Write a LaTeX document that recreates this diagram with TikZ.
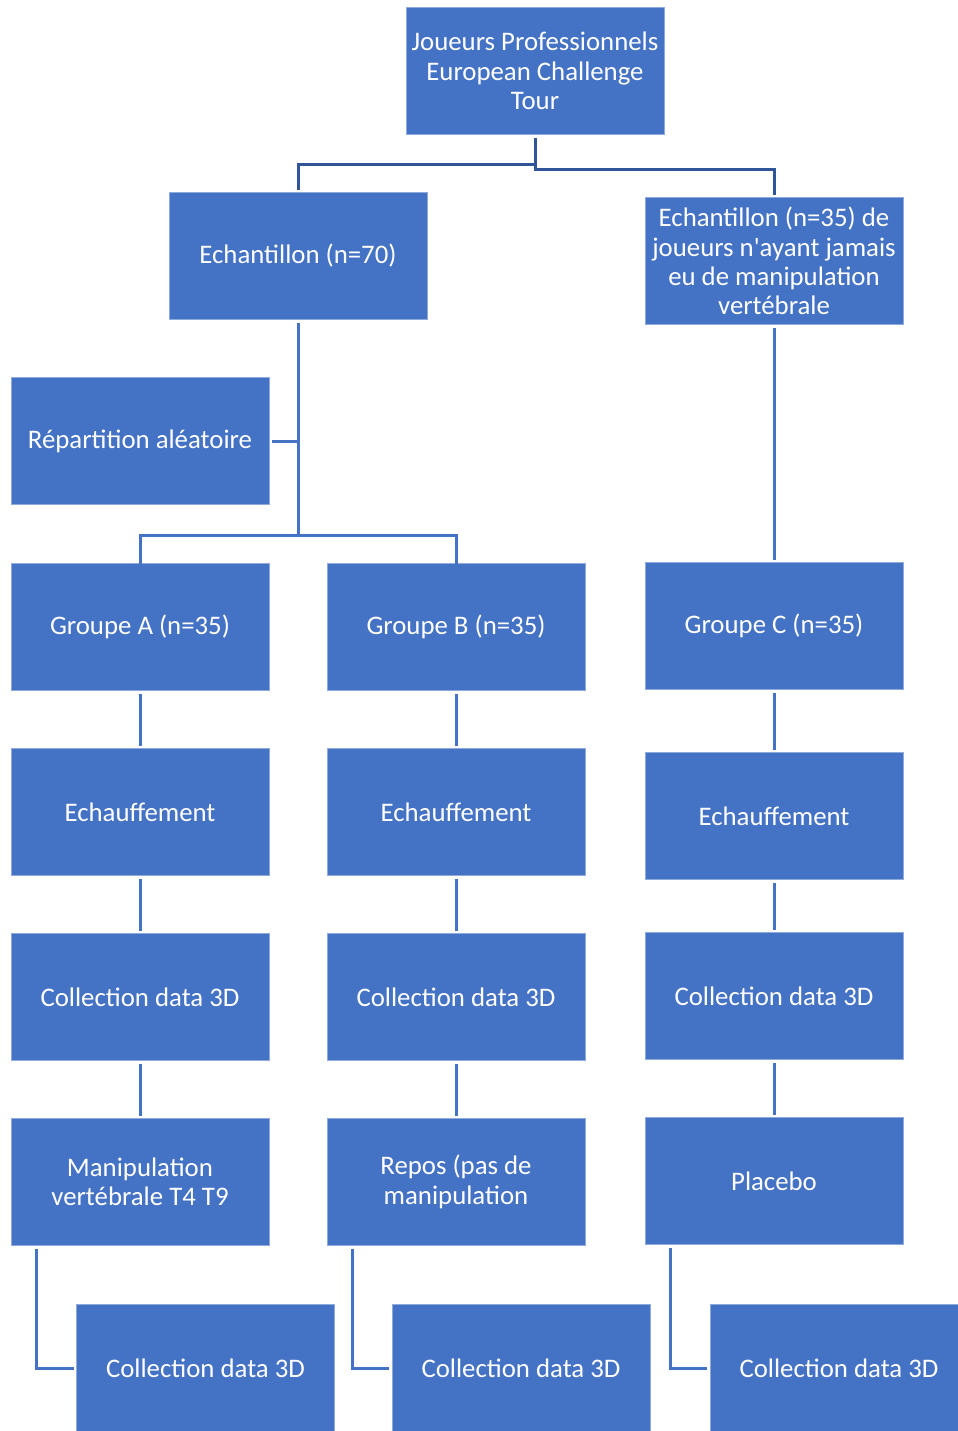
\documentclass[tikz,border=0pt]{standalone}
\usepackage{fontspec}
\setmainfont{Carlito}[Ligatures=TeXOff]
\usetikzlibrary{positioning}
\definecolor{boxblue}{RGB}{68,114,196}
\definecolor{boxedge}{RGB}{143,170,220}
\definecolor{linkdark}{RGB}{47,85,151}

\begin{document}
\begin{tikzpicture}[x=0.5pt,y=-0.5pt,
  stage/.style={rectangle,fill=boxblue,draw=boxedge,line width=0.4pt,
    minimum width=129pt,minimum height=63.5pt,inner sep=2pt,outer sep=1.5pt,
    text=white,align=center,font=\fontsize{13.4}{14.7}\selectfont},
  link/.style={draw=boxblue,line width=1.5pt},
  toplink/.style={draw=linkdark,line width=1.5pt},
  node distance=26pt]

  \useasboundingbox (0,0) rectangle (958,1431);

  \node[stage] (top) at (535,71) {Joueurs Professionnels\\European Challenge\\Tour};
  \node[stage] (ech70) at (298,256) {Echantillon (n=70)};
  \node[stage] (ech35) at (774,261) {Echantillon (n=35) de\\joueurs n'ayant jamais\\eu de manipulation\\vertébrale};
  \node[stage] (rand) at (140,441) {Répartition aléatoire};

  % groupes
  \node[stage] (grpA) at (140,627) {Groupe A (n=35)};
  \node[stage] (grpB) at (456,627) {Groupe B (n=35)};
  \node[stage] (grpC) at (774,626) {Groupe C (n=35)};

  \node[stage,below=of grpA] (warmA) {Echauffement};
  \node[stage,below=of grpB] (warmB) {Echauffement};
  \node[stage] (warmC) at (774,816) {Echauffement};

  \node[stage,below=of warmA] (dataA) {Collection data 3D};
  \node[stage,below=of warmB] (dataB) {Collection data 3D};
  \node[stage] (dataC) at (774,996) {Collection data 3D};

  \node[stage,below=of dataA] (manipA) {Manipulation\\vertébrale T4 T9};
  \node[stage,below=of dataB] (restB) {Repos (pas de\\manipulation};
  \node[stage] (placC) at (774,1181) {Placebo};

  \node[stage] (postA) at (205.5,1368) {Collection data 3D};
  \node[stage] (postB) at (521,1368) {Collection data 3D};
  \node[stage] (postC) at (839,1368) {Collection data 3D};

  % liens
  \draw[toplink] (top.south) -- (535,164) -| (ech70.north);
  \draw[toplink] (535,164) -- (535,169) -| (ech35.north);
  \draw[link] (ech70.south) -- (298,535);
  \draw[link] (rand.east) -- (298,441);
  \draw[link] (140,564) |- (298,535) -| (456,564);
  \draw[link] (ech35.south) -- (774,560);
  \draw[link] (grpA) -- (warmA);
  \draw[link] (warmA) -- (dataA);
  \draw[link] (dataA) -- (manipA);
  \draw[link] (grpB) -- (warmB);
  \draw[link] (warmB) -- (dataB);
  \draw[link] (dataB) -- (restB);
  \draw[link] (grpC) -- (warmC);
  \draw[link] (warmC) -- (dataC);
  \draw[link] (dataC) -- (placC);
  \draw[link] (manipA.south west) ++(28,0) |- (postA.west);
  \draw[link] (restB.south west) ++(28,0) |- (postB.west);
  \draw[link] (placC.south west) ++(28,0) |- (postC.west);
\end{tikzpicture}
\end{document}
